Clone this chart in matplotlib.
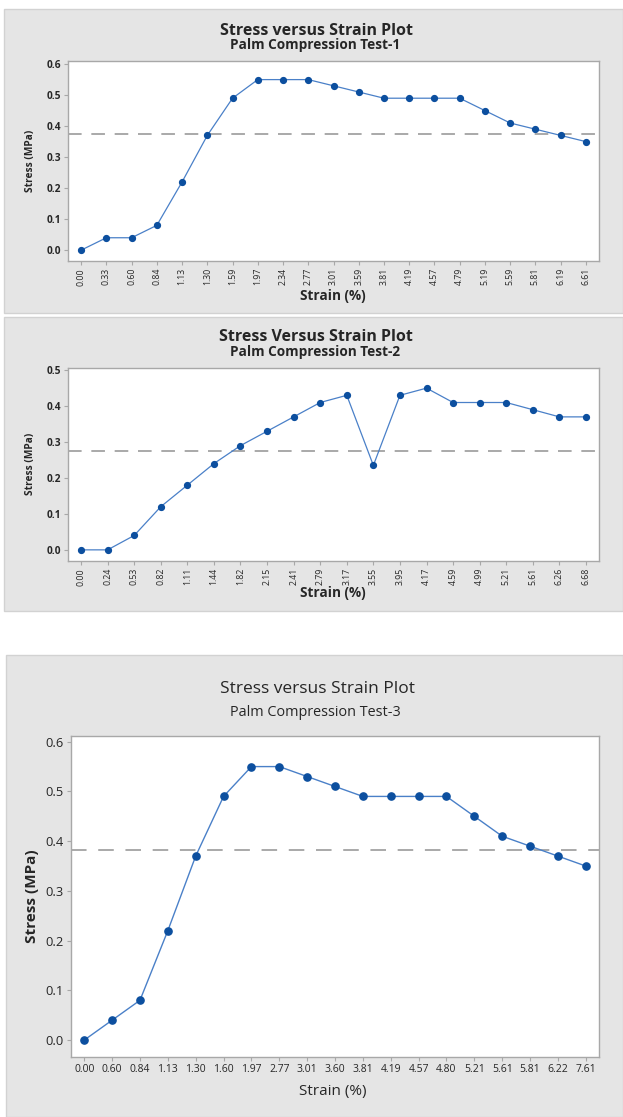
import matplotlib
matplotlib.use("Agg")
import matplotlib.pyplot as plt
from matplotlib.patches import Rectangle

plt.rcParams['font.family'] = ['Open Sans', 'DejaVu Sans']

# ---------------- data ----------------
strain1 = ["0.00", "0.33", "0.60", "0.84", "1.13", "1.30", "1.59", "1.97", "2.34", "2.77",
           "3.01", "3.59", "3.81", "4.19", "4.57", "4.79", "5.19", "5.59", "5.81", "6.19", "6.61"]
stress1 = [0.00, 0.04, 0.04, 0.08, 0.22, 0.37, 0.49, 0.55, 0.55, 0.55,
           0.53, 0.51, 0.49, 0.49, 0.49, 0.49, 0.45, 0.41, 0.39, 0.37, 0.35]
ref1 = 0.374

strain2 = ["0.00", "0.24", "0.53", "0.82", "1.11", "1.44", "1.82", "2.15", "2.41", "2.79",
           "3.17", "3.55", "3.95", "4.17", "4.59", "4.99", "5.21", "5.61", "6.26", "6.68"]
stress2 = [0.00, 0.00, 0.04, 0.12, 0.18, 0.24, 0.29, 0.33, 0.37, 0.41,
           0.43, 0.235, 0.43, 0.45, 0.41, 0.41, 0.41, 0.39, 0.37, 0.37]
ref2 = 0.275

strain3 = ["0.00", "0.60", "0.84", "1.13", "1.30", "1.60", "1.97", "2.77", "3.01", "3.60",
           "3.81", "4.19", "4.57", "4.80", "5.21", "5.61", "5.81", "6.22", "7.61"]
stress3 = [0.00, 0.04, 0.08, 0.22, 0.37, 0.49, 0.55, 0.55, 0.53, 0.51,
           0.49, 0.49, 0.49, 0.49, 0.45, 0.41, 0.39, 0.37, 0.35]
ref3 = 0.383

titles = ["Stress versus Strain Plot", "Stress Versus Strain Plot", "Stress versus Strain Plot"]
subtitles = ["Palm Compression Test-1", "Palm Compression Test-2", "Palm Compression Test-3"]

# ---------------- layout ----------------
W, H = 623, 1117
fig = plt.figure(figsize=(W / 100, H / 100), dpi=100)
fig.patch.set_facecolor('white')

BG = '#e5e5e5'
EDGE = '#d2d2d2'
LINE = '#4a80c8'
MARK = '#0c4f9f'
DASH = '#a9a9a9'
SPINE = '#a8a8a8'
TXT = '#262626'


def fx(px):
    return px / W


def fy(py):
    return 1 - py / H


def panel_bg(x0, y0, x1, y1):
    fig.patches.append(Rectangle((fx(x0), fy(y1)), fx(x1 - x0), (y1 - y0) / H,
                                 transform=fig.transFigure, facecolor=BG,
                                 edgecolor=EDGE, linewidth=1.0, zorder=-10))


def make_axes(x0, y0, x1, y1):
    ax = fig.add_axes([fx(x0), fy(y1), fx(x1 - x0), (y1 - y0) / H])
    ax.set_zorder(5)
    return ax


def style(ax, labels, vals, ref, ylim, yticks, ms, lw, rot, xfs, yfs, ywt, dash, margin):
    n = len(labels)
    xs = list(range(n))
    ax.set_facecolor('white')
    ax.axhline(ref, color=DASH, lw=1.4, dashes=dash, zorder=1)
    ax.plot(xs, vals, color=LINE, lw=lw, zorder=2)
    ax.plot(xs, vals, 'o', color=MARK, ms=ms, mec=MARK, zorder=3)
    ax.set_xlim(-margin, n - 1 + margin)
    ax.set_ylim(*ylim)
    ax.set_xticks(xs)
    ax.set_xticklabels(labels, rotation=rot, fontsize=xfs, color=TXT)
    ax.set_yticks(yticks)
    ax.set_yticklabels([f"{t:.1f}" for t in yticks], fontsize=yfs, color=TXT,
                       fontweight=ywt)
    for s in ax.spines.values():
        s.set_color(SPINE)
        s.set_linewidth(1.0)
    ax.tick_params(axis='both', length=3, width=0.8, color=SPINE, pad=2)


# Panel 1
panel_bg(4, 9, 623, 313)
ax1 = make_axes(68, 61, 599, 261)
style(ax1, strain1, stress1, ref1, (-0.035, 0.61), [0.0, 0.1, 0.2, 0.3, 0.4, 0.5, 0.6],
      ms=4.2, lw=0.9, rot=90, xfs=6.3, yfs=7.3, ywt='bold', dash=(7, 5), margin=0.52)
fig.text(fx(316), fy(31), titles[0], ha='center', va='center', fontsize=11.5,
         fontweight='bold', color=TXT)
fig.text(fx(315), fy(45), subtitles[0], ha='center', va='center', fontsize=9.8,
         fontweight='bold', color=TXT)
fig.text(fx(333), fy(296), "Strain (%)", ha='center', va='center', fontsize=9.8,
         fontweight='bold', color=TXT)
fig.text(fx(30), fy(161), "Stress (MPa)", ha='center', va='center', fontsize=7.3,
         fontweight='bold', rotation=90, color=TXT)

# Panel 2
panel_bg(4, 317, 623, 611)
ax2 = make_axes(68, 368, 599, 561)
style(ax2, strain2, stress2, ref2, (-0.031, 0.506), [0.0, 0.1, 0.2, 0.3, 0.4, 0.5],
      ms=4.2, lw=0.9, rot=90, xfs=6.3, yfs=7.3, ywt='bold', dash=(7, 5), margin=0.49)
fig.text(fx(316), fy(337), titles[1], ha='center', va='center', fontsize=11.5,
         fontweight='bold', color=TXT)
fig.text(fx(315), fy(352), subtitles[1], ha='center', va='center', fontsize=9.8,
         fontweight='bold', color=TXT)
fig.text(fx(333), fy(593), "Strain (%)", ha='center', va='center', fontsize=9.8,
         fontweight='bold', color=TXT)
fig.text(fx(30), fy(464), "Stress (MPa)", ha='center', va='center', fontsize=7.3,
         fontweight='bold', rotation=90, color=TXT)

# Panel 3
panel_bg(6, 655, 623, 1117)
ax3 = make_axes(71, 736, 599, 1057)
style(ax3, strain3, stress3, ref3, (-0.034, 0.6115), [0.0, 0.1, 0.2, 0.3, 0.4, 0.5, 0.6],
      ms=5.2, lw=1.0, rot=0, xfs=7.5, yfs=9.3, ywt='normal', dash=(8, 6), margin=0.475)
fig.text(fx(317), fy(689), titles[2], ha='center', va='center', fontsize=12.5,
         color=TXT)
fig.text(fx(315), fy(712), subtitles[2], ha='center', va='center', fontsize=10.4,
         color=TXT)
fig.text(fx(333), fy(1092), "Strain (%)", ha='center', va='center', fontsize=11,
         color=TXT)
fig.text(fx(32), fy(896), "Stress (MPa)", ha='center', va='center', fontsize=11,
         fontweight='bold', rotation=90, color=TXT)

fig.savefig("out.png", dpi=100, facecolor='white')
